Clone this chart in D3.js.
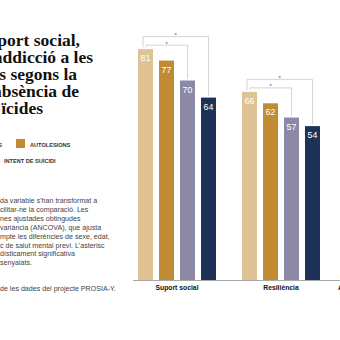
<!DOCTYPE html>
<html>
<head>
<meta charset="utf-8">
<script src="https://cdn.jsdelivr.net/npm/d3@7"></script>
<style>
body{margin:0;background:#fff;overflow:hidden;}
svg{display:block;}
</style>
</head>
<body>
<div id="chart"></div>
<script>
// categories and series
var categories = ["Suport social", "Resiliència", "Addicció a les xarxes socials"];
var series = ["Sense conductes", "Autolesions", "Ideació suïcida", "Intent de suïcidi"];
var colors = ["#dfc395", "#c08b32", "#8b89a6", "#1e3259"];
var values = {
  "Suport social": [81, 77, 70, 64],
  "Resiliència": [66, 62, 57, 54]
};
// significance brackets: pairs of series index per category
var signif = {
  "Suport social": [[0, 2], [0, 3]],
  "Resiliència": [[0, 2], [0, 3]]
};
var titleLines = ["port social,", "addicció a les", "is segons la", "absència de", "ïcides"];
var noteLines = ["da variable s'han transformat a", "cilitar-ne la comparació. Les",
  "nes ajustades obtingudes", "variància (ANCOVA), que ajusta",
  "mpte les diferències de sexe, edat,", "c de salut mental previ. L'asterisc",
  "dísticament significativa", "senyalats."];
var sourceLine = "de les dades del projecte PROSIA-Y.";

var w = 340, h = 340;
var svg = d3.select("#chart").append("svg")
  .attr("width", w).attr("height", h);

// title (cut on the left)
var titleEnds = [80, 93, 77, 79, 43];
svg.append("g").selectAll("text")
  .data(titleLines)
  .enter().append("text")
  .attr("x", (d, i) => titleEnds[i])
  .attr("y", (d, i) => 46 + i * 16.9)
  .attr("text-anchor", "end")
  .attr("font-family", "Liberation Serif")
  .attr("font-weight", "bold")
  .attr("font-size", 17.5)
  .attr("fill", "#111")
  .text(d => d);

// legend
var legend = svg.append("g")
  .attr("font-family", "Liberation Sans")
  .attr("font-size", 5.6)
  .attr("font-weight", "bold")
  .attr("fill", "#333");
var legRows = [[0, 1], [2, 3]];
var legStart = [16, -10]; // swatch x of second item of each row
legRows.forEach((row, r) => {
  var yy = 139 + r * 16;
  var sx = legStart[r];
  legend.append("rect").attr("x", sx).attr("y", yy).attr("width", 9).attr("height", 9)
    .attr("fill", colors[row[1]]);
  legend.append("text").attr("x", sx + 14).attr("y", yy + 7.5)
    .text(series[row[1]].toUpperCase());
  var t = legend.append("text").attr("x", sx - 14).attr("y", yy + 7.5)
    .attr("text-anchor", "end")
    .text(series[row[0]].toUpperCase());
  var len = t.node().getComputedTextLength();
  legend.append("rect").attr("x", sx - 14 - len - 14).attr("y", yy).attr("width", 9).attr("height", 9)
    .attr("fill", colors[row[0]]);
});

// note text
var note = svg.append("g")
  .attr("font-family", "Liberation Sans")
  .attr("font-size", 7.1)
  .attr("fill", "#444");
note.selectAll("text")
  .data(noteLines)
  .enter().append("text")
  .attr("x", 0)
  .attr("y", (d, i) => 203 + i * 8.9)
  .text(d => d);
note.append("text").attr("x", 0).attr("y", 291).text(sourceLine);

// scales
var x0 = d3.scaleBand()
  .domain(categories)
  .range([125, 437])
  .padding(0);
var x1 = d3.scaleBand()
  .domain(series)
  .range([13, 91])
  .paddingInner(0.286);
var y = d3.scaleLinear()
  .domain([0, 100])
  .range([280, -5]);

// baseline
svg.append("line")
  .attr("x1", 133).attr("x2", w)
  .attr("y1", 280.5).attr("y2", 280.5)
  .attr("stroke", "#a9a9a9").attr("stroke-width", 1);

// category labels
var xAxis = d3.axisBottom(x0).tickSize(0).tickPadding(0);
var ax = svg.append("g").attr("transform", "translate(0,285)").call(xAxis);
ax.select(".domain").remove();
ax.selectAll("text")
  .attr("font-family", "Liberation Sans")
  .attr("font-weight", "bold")
  .attr("font-size", 6.8)
  .attr("fill", "#111");

// bars
var groups = svg.append("g").selectAll("g")
  .data(categories.filter(c => values[c]))
  .enter().append("g")
  .attr("transform", d => "translate(" + x0(d) + ",0)");

groups.selectAll("rect")
  .data(c => values[c].map((v, i) => ({s: series[i], v: v, i: i})))
  .enter().append("rect")
  .attr("x", d => x1(d.s))
  .attr("y", d => y(d.v))
  .attr("width", x1.bandwidth())
  .attr("height", d => y(0) - y(d.v))
  .attr("fill", d => colors[d.i]);

groups.selectAll("text.val")
  .data(c => values[c].map((v, i) => ({s: series[i], v: v, i: i})))
  .enter().append("text")
  .attr("class", "val")
  .attr("x", d => x1(d.s) + x1.bandwidth() / 2)
  .attr("y", d => y(d.v) + 12)
  .attr("text-anchor", "middle")
  .attr("font-family", "Liberation Sans")
  .attr("font-size", 8.8)
  .attr("fill", "#fff")
  .text(d => d.v);

// significance brackets
groups.each(function(c) {
  var g = d3.select(this);
  var vals = values[c];
  signif[c].forEach((p, lvl) => {
    var a = p[0], b = p[1];
    var top = y(d3.max(vals.slice(a, b + 1))) - 4 - lvl * 8.5;
    var xa = x1(series[a]) + x1.bandwidth() / 2 + (lvl == 0 ? 0.5 : -2.5);
    var xb = x1(series[b]) + x1.bandwidth() / 2;
    g.append("path")
      .attr("d", "M" + xa + "," + (y(vals[a]) - 2) + "V" + top + "H" + xb + "V" + (y(vals[b]) - 2))
      .attr("fill", "none")
      .attr("stroke", "#c8c8c8")
      .attr("stroke-width", 0.8);
    g.append("text")
      .attr("x", (xa + xb) / 2)
      .attr("y", top + 0.5)
      .attr("text-anchor", "middle")
      .attr("font-family", "Liberation Sans")
      .attr("font-size", 6)
      .attr("fill", "#555")
      .text("*");
  });
});
</script>
</body>
</html>
